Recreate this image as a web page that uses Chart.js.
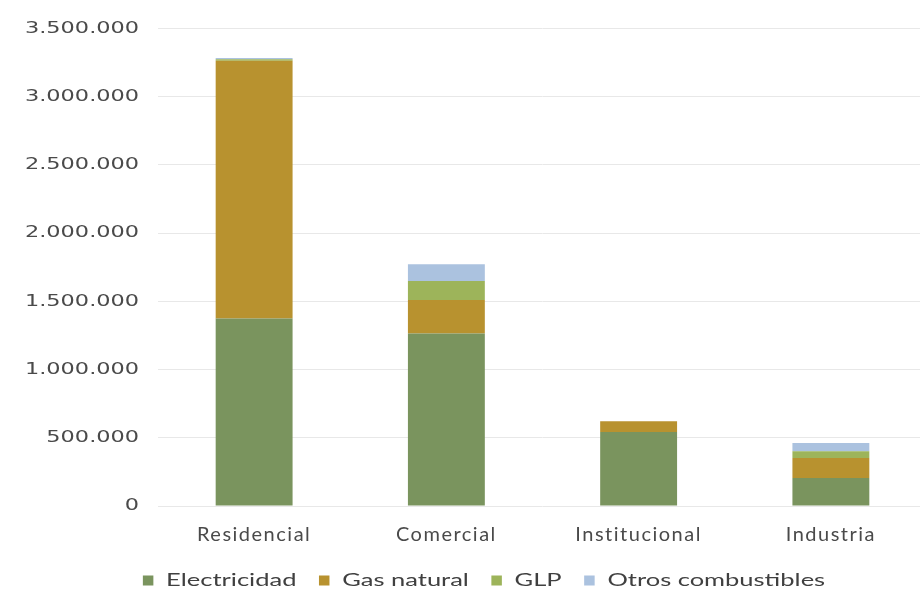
<!DOCTYPE html>
<html>
<head>
<meta charset="utf-8">
<script src="https://cdn.jsdelivr.net/npm/chart.js@4/dist/chart.umd.min.js"></script>
<style>
  html, body { margin: 0; padding: 0; background: #ffffff; overflow: hidden; }
  #wrap { position: relative; width: 927px; height: 594px; }
</style>
</head>
<body>
<div id="wrap"><canvas id="chart" width="927" height="594"></canvas></div>
<script>
// Consumo por sector y fuente de energía
const categories = ['Residencial', 'Comercial', 'Institucional', 'Industria'];
const electricidad = [1375000, 1265000, 542000, 205000];
const gasNatural = [1890000, 245000, 80000, 146000];
const glp = [10000, 139000, 0, 51000];
const otrosCombustibles = [10000, 124000, 0, 59000];
const seriesNames = ['Electricidad', 'Gas natural', 'GLP', 'Otros combustibles'];
const yTicks = [0, 500000, 1000000, 1500000, 2000000, 2500000, 3000000, 3500000];

const colors = ['#7a945e', '#b8922f', '#9db45a', '#abc2df'];
const seriesData = [electricidad, gasNatural, glp, otrosCombustibles];

const fmt = v => String(v).replace(/\B(?=(\d{3})+(?!\d))/g, '.');

// Wide lettering: the value axis and the legend are drawn horizontally stretched,
// the category labels get extra tracking.
const Y_STRETCH = 1.4;
const LEGEND_STRETCH = 1.5;
const LEGEND_CENTER = 484;
const X_TRACKING = '1.5px';

function wrapOnce(obj, method, before) {
  if (obj['_wrapped_' + method]) return;
  const orig = obj[method].bind(obj);
  obj[method] = function (...args) {
    const ctx = obj.ctx;
    ctx.save();
    before(ctx);
    const r = orig(...args);
    ctx.restore();
    return r;
  };
  obj['_wrapped_' + method] = true;
}

const letteringPlugin = {
  id: 'lettering',
  afterLayout(chart) {
    const y = chart.scales.y;
    const anchor = y.right - y.options.ticks.padding;
    wrapOnce(y, 'drawLabels', ctx => {
      ctx.translate(anchor, 0);
      ctx.scale(Y_STRETCH, 1);
      ctx.translate(-anchor, 0);
    });
    wrapOnce(chart.scales.x, 'drawLabels', ctx => { ctx.letterSpacing = X_TRACKING; });
    const lg = chart.legend;
    wrapOnce(lg, 'draw', ctx => {
      const mid = (lg.left + lg.right) / 2;
      ctx.translate(LEGEND_CENTER, 0);
      ctx.scale(LEGEND_STRETCH, 1);
      ctx.translate(-mid, 0);
    });
  }
};

new Chart(document.getElementById('chart'), {
  type: 'bar',
  data: {
    labels: categories,
    datasets: seriesNames.map((name, i) => ({
      label: name,
      data: seriesData[i],
      backgroundColor: colors[i],
      borderWidth: 0,
      barPercentage: 0.4,
      categoryPercentage: 1.0
    }))
  },
  plugins: [letteringPlugin],
  options: {
    responsive: false,
    animation: false,
    layout: { padding: { top: 28, left: 0, right: 0, bottom: 0 } },
    plugins: {
      legend: {
        position: 'bottom',
        maxHeight: 37,
        labels: {
          color: '#404040',
          font: { family: 'Lato', size: 17 },
          boxWidth: 7,
          boxHeight: 10,
          padding: 15
        }
      },
      tooltip: { enabled: false }
    },
    scales: {
      x: {
        stacked: true,
        grid: { display: false, drawTicks: false },
        border: { display: false },
        ticks: {
          color: '#4a4a4a',
          font: { family: 'Lato', size: 20 },
          padding: 17
        },
        afterFit: s => { s.height = 51; }
      },
      y: {
        stacked: true,
        min: 0,
        max: 3500000,
        afterBuildTicks: s => { s.ticks = yTicks.map(v => ({ value: v })); },
        grid: { color: '#e8e8e8', lineWidth: 1, drawTicks: false },
        border: { display: false },
        ticks: {
          color: '#4a4a4a',
          font: { family: 'DejaVu Sans', size: 16 },
          padding: 19,
          callback: v => fmt(v)
        },
        afterFit: s => { s.width = 158; }
      }
    }
  }
});
</script>
</body>
</html>
